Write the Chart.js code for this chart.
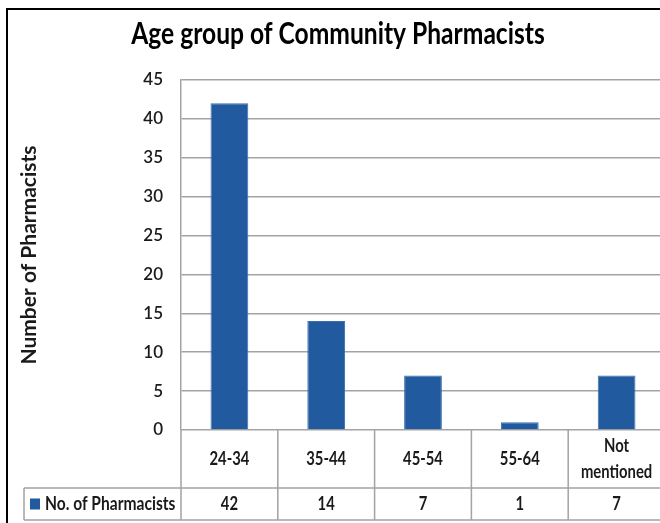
<!DOCTYPE html>
<html>
<head>
<meta charset="utf-8">
<title>Age group of Community Pharmacists</title>
<script src="https://cdn.jsdelivr.net/npm/chart.js@4.4.1/dist/chart.umd.min.js"></script>
<style>
  html, body { margin: 0; padding: 0; background: #fff; overflow: hidden; }
  canvas { display: block; }
</style>
</head>
<body>
<canvas id="ageChart" width="665" height="523"></canvas>
<script>
const categories = ['24-34', '35-44', '45-54', '55-64', ['Not', 'mentioned']];
const pharmacists = [42, 14, 7, 1, 7];
const seriesName = 'No. of Pharmacists';
const chartTitle = 'Age group of Community Pharmacists';
const yAxisTitle = 'Number of Pharmacists';
const yMax = 45;
const yStep = 5;

const BAR_BLUE = '#215a9f';
const GRID_GREY = '#a3a3a3';
const TEXT = '#1a1a1a';
const TABLE_FONT = 'bold 19px Lato, sans-serif';

Chart.defaults.font.family = 'Lato, Carlito, sans-serif';

// draw text narrowed horizontally (Calibri-like proportions)
function squishedText(ctx, text, x, y, sx) {
  ctx.save();
  ctx.translate(x, y);
  ctx.scale(sx, 1);
  ctx.fillText(text, 0, 0);
  ctx.restore();
}

// frame, title and the data table under the plot
const tableDecor = {
  id: 'tableDecor',
  beforeDraw(chart) {
    const ctx = chart.ctx;
    ctx.save();
    ctx.fillStyle = '#fff';
    ctx.fillRect(0, 0, chart.width, chart.height);
    ctx.fillStyle = '#000';
    ctx.fillRect(6, 8, chart.width, 2);
    ctx.fillRect(6, 8, 2, chart.height);
    ctx.restore();
  },
  afterDraw(chart) {
    const ctx = chart.ctx;
    const area = chart.chartArea;
    const xs = chart.scales.x;
    const row1 = area.bottom + 58;
    const row2 = row1 + 32;
    const legendLeft = 24;
    const n = categories.length;

    ctx.save();

    // title
    ctx.fillStyle = '#000';
    ctx.font = 'bold 30px Lato, sans-serif';
    ctx.textAlign = 'center';
    ctx.textBaseline = 'alphabetic';
    squishedText(ctx, chartTitle, 338, 44, 0.82);

    // table grid
    ctx.strokeStyle = GRID_GREY;
    ctx.lineWidth = 1.5;
    ctx.beginPath();
    ctx.moveTo(area.left, area.bottom);
    ctx.lineTo(area.left, row2);
    for (let i = 0; i < n - 1; i++) {
      const edge = (xs.getPixelForValue(i) + xs.getPixelForValue(i + 1)) / 2;
      ctx.moveTo(edge, area.bottom);
      ctx.lineTo(edge, row2);
    }
    ctx.moveTo(legendLeft, row1);
    ctx.lineTo(chart.width, row1);
    ctx.moveTo(legendLeft, row2);
    ctx.lineTo(chart.width, row2);
    ctx.moveTo(legendLeft, row1);
    ctx.lineTo(legendLeft, row2);
    ctx.stroke();

    // category row
    ctx.fillStyle = TEXT;
    ctx.font = TABLE_FONT;
    ctx.textBaseline = 'middle';
    const lineGap = 26.5;
    categories.forEach((label, i) => {
      const lines = Array.isArray(label) ? label : [label];
      const cx = xs.getPixelForValue(i);
      const startY = (area.bottom + row1) / 2 - (lines.length - 1) * lineGap / 2;
      lines.forEach((line, j) => squishedText(ctx, line, cx, startY + j * lineGap, 0.78));
    });

    // value row
    const valueY = (row1 + row2) / 2;
    pharmacists.forEach((v, i) => {
      squishedText(ctx, String(v), xs.getPixelForValue(i), valueY, 0.78);
    });

    // legend key
    ctx.fillStyle = BAR_BLUE;
    ctx.fillRect(30, valueY - 5.5, 10, 11);
    ctx.fillStyle = TEXT;
    ctx.textAlign = 'left';
    squishedText(ctx, seriesName, 45, valueY, 0.82);

    ctx.restore();
  }
};

new Chart(document.getElementById('ageChart'), {
  type: 'bar',
  data: {
    labels: categories,
    datasets: [{
      label: seriesName,
      data: pharmacists,
      backgroundColor: BAR_BLUE,
      borderColor: '#3d6fac',
      borderWidth: 1,
      barPercentage: 0.39,
      categoryPercentage: 1
    }]
  },
  options: {
    responsive: false,
    animation: false,
    layout: { padding: { top: 80, bottom: 93, left: 0, right: 0 } },
    plugins: {
      legend: { display: false },
      title: { display: false },
      tooltip: { enabled: false }
    },
    scales: {
      x: { display: false },
      y: {
        min: 0,
        max: yMax,
        ticks: {
          stepSize: yStep,
          color: TEXT,
          padding: 18,
          font: { size: 17, weight: '600' }
        },
        grid: { color: GRID_GREY, lineWidth: 1.5, drawTicks: false },
        border: { color: GRID_GREY, width: 1.5 },
        title: {
          display: true,
          text: yAxisTitle,
          color: TEXT,
          font: { size: 21, weight: 'bold' },
          padding: { top: 17, bottom: 0 }
        },
        afterFit(scale) {
          scale.width = 181;
        }
      }
    }
  },
  plugins: [tableDecor]
});
</script>
</body>
</html>
